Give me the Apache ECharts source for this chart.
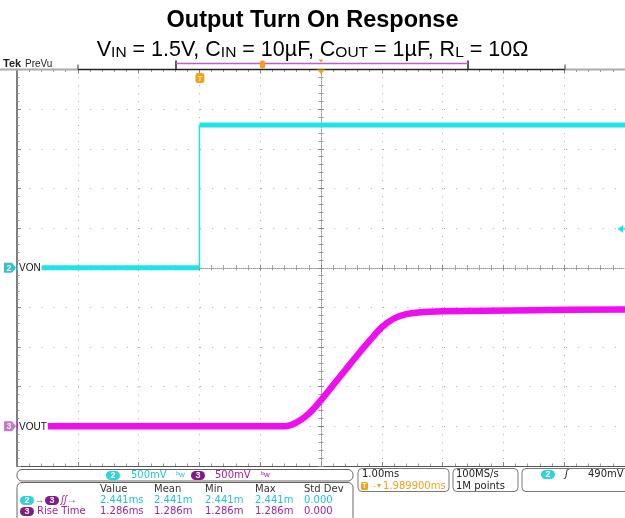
<!DOCTYPE html>
<html>
<head>
<meta charset="utf-8">
<script src="https://cdn.jsdelivr.net/npm/echarts@6/dist/echarts.min.js"></script>
<style>
  html, body { margin: 0; padding: 0; background: #fff; }
  #chart { width: 625px; height: 518px; }
</style>
</head>
<body>
<div id="chart"></div>
<script>
// Time base: ms relative to the trigger, 1 ms/div. Both channels at 500 mV/div.
const timeRange = [-3, 7];
const vonTime = [-3, 0, 0, 7];
const vonVolt = [0, 0, 1.8, 1.8];
const voutTime = [-3, 1.40, 1.60, 1.80, 2.00, 2.20, 2.40, 2.60, 2.80, 3.00, 3.20, 3.40, 3.60, 4.00, 5.50, 7];
const voutVolt = [0, 0, 0.05, 0.16, 0.33, 0.52, 0.71, 0.90, 1.08, 1.25, 1.36, 1.415, 1.437, 1.45, 1.465, 1.475];

// Channel offsets (V range shown for each trace)
const vonRange = [-2.5, 2.5];
const voutRange = [-0.5, 4.5];
const voltsPerDiv = 0.5;
const triggerLevel = 0.49;
const triggerTime = 0;

// Readouts
const measHeaders = ['Value', 'Mean', 'Min', 'Max', 'Std Dev'];
const delayRow = ['2.441ms', '2.441m', '2.441m', '2.441m', '0.000'];
const riseRow = ['1.286ms', '1.286m', '1.286m', '1.286m', '0.000'];
const chScale = ['500mV', '500mV'];
const timeScaleText = '1.00ms';
const horizPosText = '1.989900ms';
const sampleText = ['100MS/s', '1M points'];
const trigLevelText = '490mV';

const CYAN = '#1ee4ea';
const MAGENTA = '#f00ef0';
const CYAN_TXT = '#22c4d2';
const MAG_TXT = '#a4229f';
const ORANGE = '#f5a11c';
const PANEL = '"DejaVu Sans", Verdana, sans-serif';
const SANS = '"Liberation Sans", Arial, sans-serif';

const chart = echarts.init(document.getElementById('chart'), null, { renderer: 'canvas' });

// Graticule pieces built from axes
function frameX(pos, lineColor) {
  return {
    type: 'value', min: timeRange[0], max: timeRange[1], interval: 1, position: pos,
    axisLine: { show: true, onZero: false, lineStyle: { color: lineColor, width: 1.2 } },
    axisTick: { show: true, inside: true, length: 4, lineStyle: { color: '#888' } },
    minorTick: { show: true, splitNumber: 5, length: 2.5, lineStyle: { color: '#999' } },
    axisLabel: { show: false }, splitLine: { show: false }
  };
}
function centerX(inside) {
  return {
    type: 'value', min: timeRange[0], max: timeRange[1], interval: 1, position: 'bottom',
    axisLine: { show: inside, onZero: true, onZeroAxisIndex: 0, lineStyle: { color: '#999', type: [1, 1] } },
    axisTick: { show: true, inside: inside, length: 3, lineStyle: { color: '#888' } },
    minorTick: { show: true, splitNumber: 5, length: 2.5, lineStyle: { color: '#999' } },
    axisLabel: { show: false }, splitLine: { show: false }
  };
}
function centerY(inside) {
  return {
    type: 'value', min: vonRange[0], max: vonRange[1], interval: voltsPerDiv, position: 'left',
    axisLine: { show: inside, onZero: true, onZeroAxisIndex: 4, lineStyle: { color: '#999', type: [1, 1] } },
    axisTick: { show: true, inside: inside, length: 3, lineStyle: { color: '#888' } },
    minorTick: { show: true, splitNumber: 5, length: 2.5, lineStyle: { color: '#999' } },
    axisLabel: { show: false }, splitLine: { show: false }
  };
}

const xBottom = frameX('bottom', '#555');
xBottom.splitLine = { show: true, lineStyle: { color: '#a8a8a8', width: 1, type: [1, 6.93] } };
const xTop = frameX('top', '#aaa');

const yLeft = {
  type: 'value', min: vonRange[0], max: vonRange[1], interval: voltsPerDiv, position: 'left',
  axisLine: { show: true, onZero: false, lineStyle: { color: '#555', width: 1.5 } },
  axisTick: { show: true, inside: true, length: 4, lineStyle: { color: '#888' } },
  minorTick: { show: true, splitNumber: 5, length: 2.5, lineStyle: { color: '#999' } },
  axisLabel: { show: false },
  splitLine: { show: true, lineStyle: { color: '#a8a8a8', width: 1, type: [1, 11.2] } }
};
const yVout = {
  type: 'value', min: voutRange[0], max: voutRange[1], interval: voltsPerDiv, show: false,
  axisLine: { onZero: false }, splitLine: { show: false }
};
const xCenterRef = {
  type: 'value', min: -5, max: 5, show: false, axisLine: { onZero: false }, splitLine: { show: false }
};

// VON drawn as thick flat levels plus a thin transition edge
const vonFlat = [];
const vonEdge = [];
for (let i = 0; i < vonTime.length; i++) {
  if (i > 0 && vonTime[i] === vonTime[i - 1]) {
    vonFlat.push([vonTime[i], '-']);
    vonEdge.push([vonTime[i - 1], vonVolt[i - 1]], [vonTime[i], vonVolt[i]]);
  }
  vonFlat.push([vonTime[i], vonVolt[i]]);
}
const voutData = voutTime.map((t, i) => [t, voutVolt[i]]);

chart.setOption({
  animation: false,
  backgroundColor: '#fff',
  title: [
    {
      text: 'Output Turn On Response', left: 'center', top: 4,
      textStyle: { fontFamily: SANS, fontSize: 23.5, fontWeight: 'bold', color: '#000' }
    },
    {
      text: 'V{s|IN} = 1.5V, C{s|IN} = 10µF, C{s|OUT} = 1µF, R{s|L} = 10Ω', left: 'center', top: 34,
      textStyle: {
        fontFamily: SANS, fontSize: 21.5, fontWeight: 'normal', color: '#000',
        rich: { s: { fontFamily: SANS, fontSize: 15.5, color: '#000', verticalAlign: 'bottom', lineHeight: 12 } }
      }
    }
  ],
  grid: { left: 17, top: 69.5, width: 610, height: 396.5, containLabel: false },
  xAxis: [xBottom, xTop, centerX(true), centerX(false), xCenterRef],
  yAxis: [yLeft, yVout, centerY(true), centerY(false)],
  series: [
    {
      name: 'VON', type: 'line', xAxisIndex: 0, yAxisIndex: 0, data: vonFlat, showSymbol: false,
      connectNulls: false, lineStyle: { color: CYAN, width: 5 }, z: 3
    },
    {
      name: 'VON edge', type: 'line', xAxisIndex: 0, yAxisIndex: 0, data: vonEdge, showSymbol: false,
      lineStyle: { color: CYAN, width: 1.5 }, z: 3
    },
    {
      name: 'VOUT', type: 'line', xAxisIndex: 0, yAxisIndex: 1, data: voutData, showSymbol: false,
      smooth: 0.35, lineStyle: { color: MAGENTA, width: 6.5, join: 'round', cap: 'butt' }, z: 3
    }
  ]
});

// Screen decorations: channel markers, trigger markers, record ruler and readout panels
const px = (xi, v) => chart.convertToPixel({ xAxisIndex: xi }, v);
const py = (yi, v) => chart.convertToPixel({ yAxisIndex: yi }, v);
const yVon0 = py(0, 0);
const yVout0 = py(1, 0);
const yTrig = py(0, triggerLevel);
const xTrig = px(0, triggerTime);
const xCenter = px(4, 0);
const gridTop = 69.5;

function txt(x, y, s, o) {
  return { type: 'text', x: x, y: y, z: 100,
    style: Object.assign({ text: s, fill: '#222', font: '10px ' + PANEL, verticalAlign: 'middle', align: 'left' }, o || {}) };
}
function rect(x, y, w, h, r, style) {
  return { type: 'rect', z: 99, shape: { x: x, y: y, width: w, height: h, r: r }, style: style };
}
function pill(x, y, label, fill, fg) {
  return [
    rect(x, y - 4.5, 14, 9, 4.5, { fill: fill }),
    txt(x + 7, y + 0.5, label, { fill: fg || '#fff', align: 'center', font: 'bold 9px ' + SANS })
  ];
}
function chanMarker(y, label, fill, name) {
  return [
    { type: 'polygon', z: 100, shape: { points: [[4, y - 5], [12, y - 5], [16, y], [12, y + 5], [4, y + 5]] }, style: { fill: fill } },
    txt(9, y + 0.5, label, { fill: '#eef', align: 'center', font: 'bold 9px ' + SANS }),
    txt(18, y + 0.5, name, { fill: '#111', font: '10px ' + SANS, backgroundColor: '#fff', padding: [1, 1, 1, 1] })
  ];
}

const g = [];
// record ruler across the top
g.push(txt(3, 64, 'Tek', { font: 'bold 11px ' + SANS, fill: '#222' }));
g.push(txt(25, 64, 'PreVu', { font: '10px ' + SANS, fill: '#222' }));
g.push({ type: 'line', z: 98, shape: { x1: 0, y1: gridTop, x2: 78, y2: gridTop }, style: { stroke: '#aaa', lineWidth: 2 } });
g.push({ type: 'line', z: 98, shape: { x1: 565, y1: gridTop, x2: 625, y2: gridTop }, style: { stroke: '#aaa', lineWidth: 2 } });
g.push({ type: 'line', z: 99, shape: { x1: 78, y1: gridTop, x2: 565, y2: gridTop }, style: { stroke: '#222', lineWidth: 1.5 } });
[78, 565].forEach(function (x) {
  g.push({ type: 'line', z: 99, shape: { x1: x, y1: gridTop - 5, x2: x, y2: gridTop }, style: { stroke: '#555', lineWidth: 1.2 } });
});
[176, 468].forEach(function (x) {
  g.push({ type: 'line', z: 99, shape: { x1: x, y1: gridTop - 9, x2: x, y2: gridTop }, style: { stroke: '#222', lineWidth: 1.5 } });
});
g.push({ type: 'line', z: 99, shape: { x1: 176, y1: gridTop - 6, x2: 468, y2: gridTop - 6 }, style: { stroke: '#c25ccc', lineWidth: 1.5 } });
g.push(rect(260, gridTop - 9, 5, 8, 1.5, { fill: ORANGE }));
g.push({ type: 'polygon', z: 100, shape: { points: [[xCenter - 2.5, gridTop - 10], [xCenter + 2.5, gridTop - 10], [xCenter, gridTop - 7]] }, style: { fill: ORANGE } });
g.push({ type: 'polygon', z: 100, shape: { points: [[xCenter - 4, gridTop], [xCenter + 4, gridTop], [xCenter, gridTop + 4.5]] }, style: { fill: ORANGE } });
// trigger position marker
g.push(rect(xTrig - 4, gridTop + 3.5, 9, 10, 2.5, { fill: ORANGE }));
g.push(txt(xTrig + 0.5, gridTop + 9, 'T', { fill: '#ffe6b0', align: 'center', font: 'bold 8px ' + SANS }));
// trigger level marker on the right edge
g.push({ type: 'polygon', z: 100, shape: { points: [[618, yTrig], [623, yTrig - 4], [623, yTrig + 4]] }, style: { fill: CYAN } });
g.push({ type: 'line', z: 100, shape: { x1: 618, y1: yTrig, x2: 625, y2: yTrig }, style: { stroke: CYAN, lineWidth: 1.5 } });
// channel ground markers
g.push.apply(g, chanMarker(yVon0, '2', '#3bbfc6', 'VON'));
g.push.apply(g, chanMarker(yVout0, '3', '#c47ac8', 'VOUT'));

// vertical scale readout
g.push(rect(17, 469.5, 336, 11.5, 5, { fill: '#fff', stroke: '#666', lineWidth: 1 }));
g.push.apply(g, pill(106, 475.5, '2', '#2fd3dc'));
g.push(txt(131, 475.5, chScale[0], { fill: CYAN_TXT }));
g.push(txt(176, 475, 'ᵇw', { fill: CYAN_TXT, font: '8px ' + SANS }));
g.push.apply(g, pill(191, 475.5, '3', '#85198a'));
g.push(txt(215, 475.5, chScale[1], { fill: MAG_TXT }));
g.push(txt(261, 475, 'ᵇw', { fill: MAG_TXT, font: '8px ' + SANS }));

// measurement table
g.push(rect(17, 482.5, 336, 40, 5, { fill: '#fff', stroke: '#666', lineWidth: 1 }));
const colX = [100, 154, 205, 255, 304];
measHeaders.forEach(function (h, i) { g.push(txt(colX[i], 489.5, h, { fill: '#333' })); });
delayRow.forEach(function (v, i) { g.push(txt(colX[i], 500.5, v, { fill: CYAN_TXT })); });
riseRow.forEach(function (v, i) { g.push(txt(colX[i], 511.5, v, { fill: MAG_TXT })); });
g.push.apply(g, pill(20, 500.5, '2', '#2fd3dc'));
g.push(txt(35, 500.5, '→', { fill: '#666', font: '9px ' + SANS }));
g.push.apply(g, pill(45, 500.5, '3', '#85198a'));
g.push(txt(61, 500.5, 'ʃʃ→', { fill: MAG_TXT, font: 'italic 10px ' + SANS }));
g.push.apply(g, pill(20, 511.5, '3', '#85198a'));
g.push(txt(37, 511.5, 'Rise Time', { fill: MAG_TXT }));

// horizontal readout
g.push(rect(358, 468.5, 91, 23, 4, { fill: '#fff', stroke: '#777', lineWidth: 1 }));
g.push(txt(362, 474.5, timeScaleText, { fill: '#222' }));
g.push(rect(361, 482, 7, 8, 1.5, { fill: ORANGE }));
g.push(txt(364.5, 486.5, 'T', { fill: '#fff', align: 'center', font: 'bold 7px ' + SANS }));
g.push(txt(369, 486, '→▾', { fill: ORANGE, font: '8px ' + SANS }));
g.push(txt(383, 486.5, horizPosText, { fill: ORANGE }));
g.push(rect(453, 468.5, 65, 23, 4, { fill: '#fff', stroke: '#777', lineWidth: 1 }));
g.push(txt(456, 474.5, sampleText[0], { fill: '#222' }));
g.push(txt(456, 486, sampleText[1], { fill: '#222' }));
g.push(rect(522, 468.5, 110, 23, 4, { fill: '#fff', stroke: '#777', lineWidth: 1 }));
g.push.apply(g, pill(541, 474.5, '2', '#2fd3dc'));
g.push(txt(565, 474.5, 'ʃ', { fill: '#222', font: 'italic 10px ' + SANS }));
g.push(txt(588, 474.5, trigLevelText, { fill: '#222' }));

chart.setOption({ graphic: { elements: g } });
</script>
</body>
</html>
